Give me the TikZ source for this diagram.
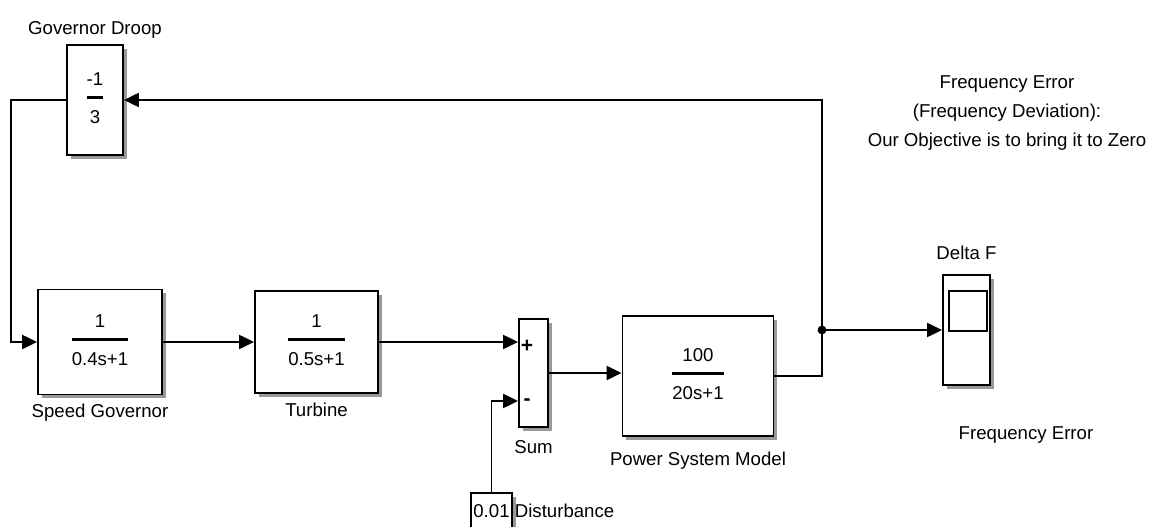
\documentclass[tikz,border=0pt]{standalone}
\usepackage{fontspec}
\setmainfont{Liberation Sans}
\usetikzlibrary{arrows.meta,positioning,calc,shadows}
\setlength{\arrayrulewidth}{1.7pt}
\newcommand{\tfpair}[2]{\begin{tabular}{@{}c@{}}#1\\[2.5pt]\hline\rule{0pt}{14pt}#2\end{tabular}}
\tikzset{
    every node/.style={font=\fontsize{10.6}{12.7}\selectfont},
    tfbox/.style={draw, line width=1.1pt, fill=white, inner sep=0pt, align=center,
        drop shadow={shadow xshift=2pt, shadow yshift=-2pt, fill=black!40, opacity=1}},
    sumbox/.style={tfbox, minimum width=0.58cm, minimum height=2.16cm},
    scopebox/.style={tfbox, minimum width=0.94cm, minimum height=2.2cm},
    constbox/.style={tfbox, line width=0.9pt, minimum width=0.82cm, minimum height=0.72cm},
    blocklabel/.style={inner sep=2pt},
    signmark/.style={font=\fontsize{12}{14}\selectfont\bfseries, inner sep=0pt},
    sigarrow/.style={-{Triangle[length=8.5pt, width=8pt]}, line width=1.1pt}
}

\begin{document}
\begin{tikzpicture}[x=0.02cm, y=-0.02cm, label distance=1pt]
    \useasboundingbox (0,0) rectangle (1161,527);

    % blocks
    \node[tfbox, minimum width=1.12cm, minimum height=2.2cm,
        label={[blocklabel]above:Governor Droop}] (droop) at (95,100) {\tfpair{-1}{3}};
    \node[tfbox, minimum width=2.48cm, minimum height=2.1cm,
        label={[blocklabel, label distance=2.5pt]below:Speed Governor}] (gov) at (100,342) {\tfpair{1}{0.4s+1}};
    \node[tfbox, minimum width=2.46cm, minimum height=2.04cm,
        label={[blocklabel, label distance=3pt]below:Turbine}] (turb) at (316.5,342) {\tfpair{1}{0.5s+1}};
    \node[sumbox, label={[blocklabel, label distance=5pt]below:Sum}] (sum) at (533.5,373) {};
    \node[signmark] (plus) at ($(sum.west)+(9,-27)$) {+};
    \node[signmark] (minus) at ($(sum.west)+(9,29)$) {-};
    \node[tfbox, minimum width=3.02cm, minimum height=2.4cm,
        label={[blocklabel, label distance=6.5pt]below:Power System Model}] (psm) at (698,376) {\tfpair{100}{20s+1}};
    \node[scopebox, label={[blocklabel, label distance=6pt]above:Delta F}] (scope) at (966.5,330) {};
    \draw[line width=1.1pt] ($(scope.north west)+(7,17)$) rectangle ($(scope.north east)+(-4,57)$);
    \node[constbox, inner sep=1pt, label={[blocklabel, label distance=-1pt]right:Disturbance}] (dist) at (491.5,511) {0.01};

    % texts
    \node[blocklabel] (errlbl) at (1026,435) {Frequency Error};
    \node[align=center, font=\fontsize{10.6}{16.4}\selectfont] (note) at (1007,113)
        {Frequency Error\\(Frequency Deviation):\\Our Objective is to bring it to Zero};

    % signals
    \coordinate (plusin) at ($(sum.west)+(0,-30)$);
    \coordinate (minusin) at ($(sum.west)+(0,28)$);
    \coordinate (fb) at (822,100);
    \coordinate (tap) at (822,330);

    \draw[sigarrow] (droop.west) -- ++(-55,0) |- (gov.west);
    \draw[sigarrow] (gov.east) -- (turb.west);
    \draw[sigarrow] (turb.east) -- (turb.east -| plusin);
    \draw[sigarrow] (dist.north) |- (minusin);
    \draw[sigarrow] (sum.east) -- (sum.east -| psm.west);
    \draw[sigarrow] (psm.east) -| (fb) -- (droop.east);
    \fill (tap) circle (2.5pt);
    \draw[sigarrow] (tap) -- (tap -| scope.west);
\end{tikzpicture}
\end{document}
